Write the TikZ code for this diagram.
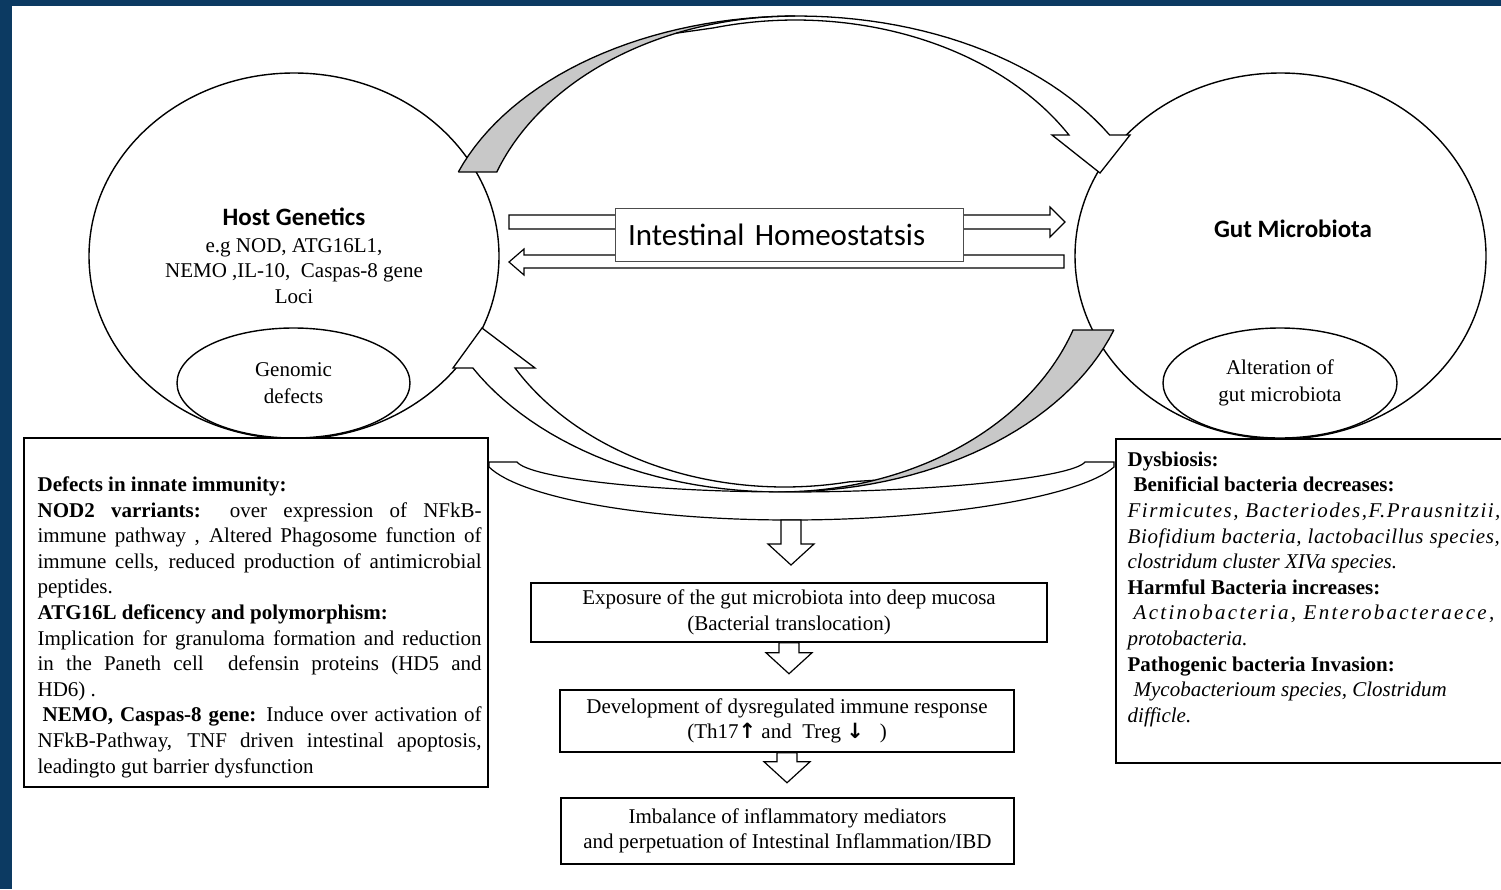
\documentclass[tikz,border=0pt]{standalone}
\usepackage{fontspec}
\setmainfont{Liberation Serif}
\newfontfamily\calibfont{Carlito}
\newfontfamily\arrowfont{DejaVu Sans}
\usetikzlibrary{shapes.geometric, calc}
\definecolor{frameblue}{RGB}{12,58,98}
\definecolor{bandgray}{RGB}{200,200,200}

\begin{document}
\begin{tikzpicture}[x=1pt, y=-1pt, line width=1.3pt, samples=60,
  every node/.style={font=\fontsize{21}{25.6}\selectfont, inner sep=0pt},
  bubble/.style={ellipse, draw, fill=white, line width=1.4pt, align=center},
  flowbox/.style={draw, fill=white, line width=1.5pt, align=center},
  infobox/.style={draw, fill=white, line width=1.5pt},
  blockline/.style={draw, fill=white, line width=1.2pt},
  titlefont/.style={font=\calibfont\bfseries\fontsize{25}{30}\selectfont},
  pics/downarr/.style={code={
    \path[blockline] (-10,0) -- (-10,#1) -- (-23,#1) -- (0,#1+21) -- (23,#1) -- (10,#1) -- (10,0) -- cycle;}}]

% frame
\useasboundingbox (0,0) rectangle (1501,889);
\fill[frameblue] (0,0) rectangle (1501,889);
\fill[white] (12,6) rectangle (1501,889);

% the two partners
\node[bubble, minimum width=410pt, minimum height=366pt] (host) at (294,256)
  {{\calibfont\bfseries\fontsize{25}{30}\selectfont Host Genetics}\\[1pt]
   e.g NOD, ATG16L1,\\ NEMO ,IL-10,\ \ Caspas-8 gene\\ Loci};
\node[bubble, minimum width=233pt, minimum height=110pt, font=\fontsize{21}{27}\selectfont]
  (genomic) at (293.5,383) {Genomic\\defects};
\node[bubble, minimum width=411pt, minimum height=366pt] (gut) at (1280.5,256) {};
\node[titlefont] (gutname) at (1293,229) {Gut Microbiota};
\node[bubble, minimum width=234pt, minimum height=110pt, font=\fontsize{21}{27}\selectfont]
  (alter) at (1280,383) {Alteration of\\gut microbiota};

% homeostasis arrows
\path[blockline] (509,215) -- (1050,215) -- (1050,207) -- (1065,222) -- (1050,237) -- (1050,229) -- (509,229) -- cycle;
\path[blockline] (1064,255) -- (524,255) -- (524,249) -- (509,262) -- (524,275) -- (524,268) -- (1064,268) -- cycle;
\node[draw=black!70, fill=white, line width=1pt, text width=322pt, inner xsep=13pt,
      minimum height=53pt, align=left, font=\calibfont\fontsize{31}{36}\selectfont]
  (homeo) at (789,234.5) {Intestinal Homeostatsis};

% upper curved arrow (host -> microbiota)
\fill[white] plot[domain=160.18:29.72] ({797+360*cos(\x)},{252-236*sin(\x)}) -- (1130,135) -- (1100,173) -- (1052,135)
  -- plot[domain=30.29:105] ({795.4+316.8*cos(\x)},{252-232*sin(\x)})
  -- plot[domain=112:160.18] ({795+317*cos(\x)},{252-236*sin(\x)}) -- cycle;
\fill[bandgray] plot[domain=160.18:90] ({797+360*cos(\x)},{252-236*sin(\x)})
  -- plot[domain=90:160.18] ({795+317*cos(\x)},{252-236*sin(\x)}) -- cycle;
\draw plot[domain=160.18:29.72] ({797+360*cos(\x)},{252-236*sin(\x)}) -- (1130,135) -- (1100,173) -- (1052,135)
  -- plot[domain=30.29:105] ({795.4+316.8*cos(\x)},{252-232*sin(\x)})
  -- ({795+317*cos(112)},{252-236*sin(112)});
\draw plot[domain=90:160.18] ({795+317*cos(\x)},{252-236*sin(\x)}) -- (458.3,172);

% lower curved arrow (microbiota -> host)
\fill[white] plot[domain=-18.97:-151.1] ({781+352*cos(\x)},{252-240*sin(\x)}) -- (453,368) -- (482,328) -- (535,368)
  -- plot[domain=-150.42:-78] ({784.6+310*cos(\x)},{252-235*sin(\x)})
  -- plot[domain=-72:-18.97] ({778+312*cos(\x)},{252-240*sin(\x)}) -- cycle;
\fill[bandgray] plot[domain=-18.97:-90] ({781+352*cos(\x)},{252-240*sin(\x)})
  -- plot[domain=-90:-18.97] ({778+312*cos(\x)},{252-240*sin(\x)}) -- cycle;
\draw plot[domain=-18.97:-151.1] ({781+352*cos(\x)},{252-240*sin(\x)}) -- (453,368) -- (482,328) -- (535,368)
  -- plot[domain=-150.42:-78] ({784.6+310*cos(\x)},{252-235*sin(\x)})
  -- ({778+312*cos(-72)},{252-240*sin(-72)});
\draw plot[domain=-90:-18.97] ({778+312*cos(\x)},{252-240*sin(\x)}) -- (1113.9,330);

% band joining both boxes
\path[blockline] (489,462) -- (517,462) .. controls (530,478) and (650,492) .. (790,492)
  .. controls (930,492) and (1072,478) .. (1085,462) -- (1114,462) -- (1114,467)
  .. controls (1080,497) and (940,520) .. (790,520) .. controls (640,520) and (520,497) .. (489,467) -- cycle;
\coordinate (bandtip) at (791,520);
\pic at (bandtip) {downarr=24};

% side boxes
\node[infobox, minimum width=464pt, minimum height=349pt] (defbox) at (256,612.5) {};
\node[anchor=north west, text width=444pt, align=justify] (deftext) at (37,476) {\parindent=0pt
  {\bfseries Defects in innate immunity:}\par
  {\bfseries NOD2 varriants:} over expression of NFkB-\linebreak
  immune pathway , Altered Phagosome function of\linebreak
  immune cells, reduced production of antimicrobial\linebreak
  peptides.\par
  {\bfseries ATG16L deficency and polymorphism:}\par
  Implication for granuloma formation and reduction\linebreak
  in the Paneth cell\ \ defensin proteins (HD5 and\linebreak
  HD6) .\par
  \hspace*{5pt}{\bfseries NEMO, Caspas-8 gene:} Induce over activation of\linebreak
  NFkB-Pathway, TNF driven intestinal apoptosis,\linebreak
  leadingto gut barrier dysfunction\par};

\node[infobox, minimum width=440pt, minimum height=324pt, anchor=north west] (dysbox) at (1115,438) {};
\node[anchor=north west, align=left] (dystext) at (1127,451) {
  \textbf{Dysbiosis:}\\
  \hspace*{6pt}\textbf{Benificial bacteria decreases:}\\
  {\itshape\addfontfeature{LetterSpace=7}Firmicutes, Bacteriodes,F.Prausnitzii,}\\
  {\itshape\addfontfeature{LetterSpace=3}Biofidium bacteria, lactobacillus species,}\\
  {\itshape clostridum cluster XIVa species.}\\
  \textbf{Harmful Bacteria increases:}\\
  {\itshape\addfontfeature{LetterSpace=11}\hspace*{6pt}Actinobacteria, Enterobacteraece,}\\
  {\itshape protobacteria.}\\
  \textbf{Pathogenic bacteria Invasion:}\\
  {\itshape\hspace*{6pt}Mycobacterioum species, Clostridum}\\
  {\itshape difficle.}};

% cascade
\node[flowbox, minimum width=516pt, minimum height=59pt] (expo) at (789,612.5)
  {Exposure of the gut microbiota into deep mucosa\\(Bacterial translocation)};
\node[flowbox, minimum width=454pt, minimum height=62pt] (immune) at (787,721)
  {Development of dysregulated immune response\\(Th17{\arrowfont\bfseries ↑} and\ \ Treg {\arrowfont\bfseries ↓}\ \ \ )};
\node[flowbox, minimum width=453pt, minimum height=66pt] (imbal) at (787.5,831)
  {Imbalance of inflammatory mediators\\and perpetuation of Intestinal Inflammation/IBD};
\pic at (expo.south) {downarr=10};
\pic at (immune.south) {downarr=9};
\end{tikzpicture}
\end{document}
